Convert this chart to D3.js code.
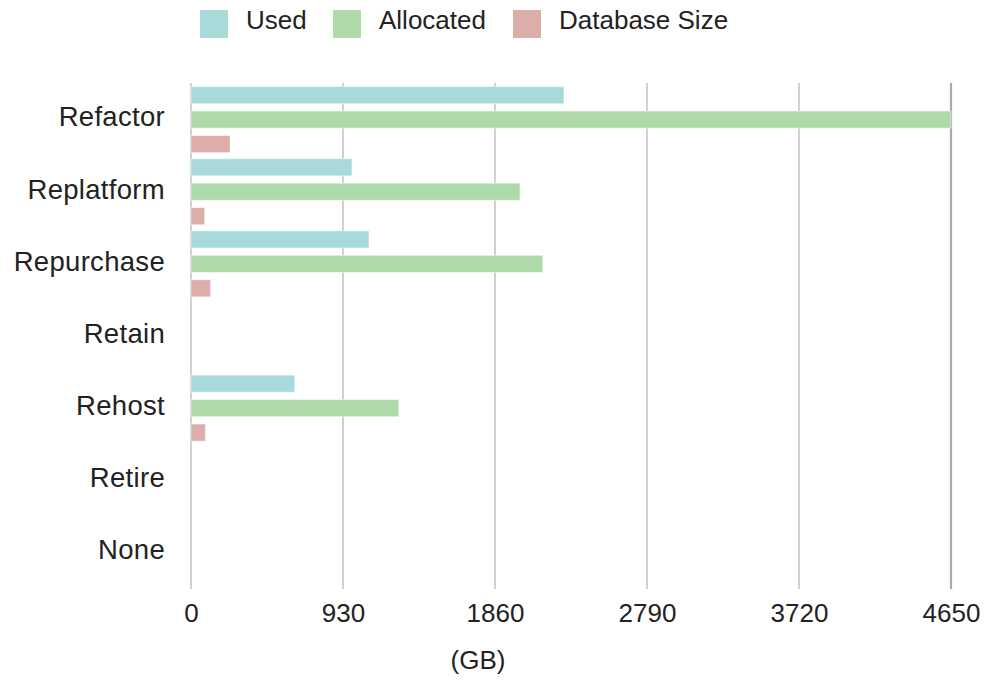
<!DOCTYPE html>
<html>
<head>
<meta charset="utf-8">
<script src="https://cdn.jsdelivr.net/npm/d3@7/dist/d3.min.js"></script>
<style>
  html, body { margin: 0; padding: 0; background: #fff; }
  svg { display: block; font-family: "Liberation Sans", Arial, sans-serif; }
</style>
</head>
<body>
<svg id="chart" width="988" height="681"></svg>
<script>
const categories = ["Refactor", "Replatform", "Repurchase", "Retain", "Rehost", "Retire", "None"];
const seriesNames = ["Used", "Allocated", "Database Size"];
const usedValues = [2282, 985, 1089, 0, 635, 0, 0];
const allocatedValues = [4650, 2013, 2152, 0, 1271, 0, 0];
const dbSizeValues = [239, 84, 120, 0, 88, 0, 0];
const seriesColors = ["#a8dada", "#aed9a8", "#dbaeaa"];
const xTicks = [0, 930, 1860, 2790, 3720, 4650];
const xLabel = "(GB)";

const seriesValues = [usedValues, allocatedValues, dbSizeValues];
const data = categories.map((c, i) => ({
  category: c,
  values: seriesNames.map((s, j) => ({ key: s, value: seriesValues[j][i] }))
}));

const svg = d3.select("#chart");

const x = d3.scaleLinear().domain([0, 4650]).range([191, 951]);
const y0 = d3.scaleBand().domain(categories).range([83, 589]).paddingInner(0.085).paddingOuter(0.05);
const y1 = d3.scaleBand().domain(seriesNames).range([0, y0.bandwidth()]).paddingInner(0.3);
const color = d3.scaleOrdinal().domain(seriesNames).range(seriesColors);

// gridlines
svg.append("g").selectAll("line").data(xTicks).join("line")
  .attr("x1", d => x(d)).attr("x2", d => x(d))
  .attr("y1", 83).attr("y2", 589)
  .attr("stroke", (d, i) => i === xTicks.length - 1 ? "#aaa" : "#bdbdbd")
  .attr("stroke-width", (d, i) => i === xTicks.length - 1 ? 2.2 : 1.4);

// x axis labels
const xAxis = d3.axisBottom(x).tickValues(xTicks).tickSize(0).tickPadding(0).tickFormat(d3.format("d"));
const gx = svg.append("g").attr("transform", "translate(0,604)").call(xAxis);
gx.select(".domain").remove();
gx.selectAll("text").attr("font-size", 26).attr("fill", "#222")
  .attr("font-family", "'Liberation Sans', Arial, sans-serif").attr("dy", "0.71em");

// y axis labels
const yAxis = d3.axisLeft(y0).tickSize(0).tickPadding(0);
const gy = svg.append("g").attr("transform", "translate(165,-2)").call(yAxis);
gy.select(".domain").remove();
gy.selectAll("text").attr("font-size", 27.5).attr("fill", "#222")
  .attr("letter-spacing", 0.3)
  .attr("font-family", "'Liberation Sans', Arial, sans-serif");

// bars
const groups = svg.append("g").selectAll("g").data(data).join("g")
  .attr("transform", d => `translate(0,${y0(d.category)})`);
groups.selectAll("rect").data(d => d.values.filter(v => v.value > 0)).join("rect")
  .attr("x", x(0))
  .attr("y", d => y1(d.key))
  .attr("width", d => x(d.value) - x(0))
  .attr("height", y1.bandwidth())
  .attr("fill", d => color(d.key))
  .attr("stroke", "#fff").attr("stroke-opacity", 0.5).attr("stroke-width", 1);

// x label
svg.append("text").attr("x", 478).attr("y", 669).attr("text-anchor", "middle")
  .attr("font-size", 26).attr("fill", "#222").text(xLabel);

// legend
const legendX = [200, 333, 513];
const legend = svg.append("g").selectAll("g").data(seriesNames).join("g")
  .attr("transform", (d, i) => `translate(${legendX[i]},10)`);
legend.append("rect").attr("width", 28).attr("height", 28).attr("fill", d => color(d));
legend.append("text").attr("x", 46).attr("y", 18.5).attr("font-size", 26)
  .attr("fill", "#222").text(d => d);
</script>
</body>
</html>
